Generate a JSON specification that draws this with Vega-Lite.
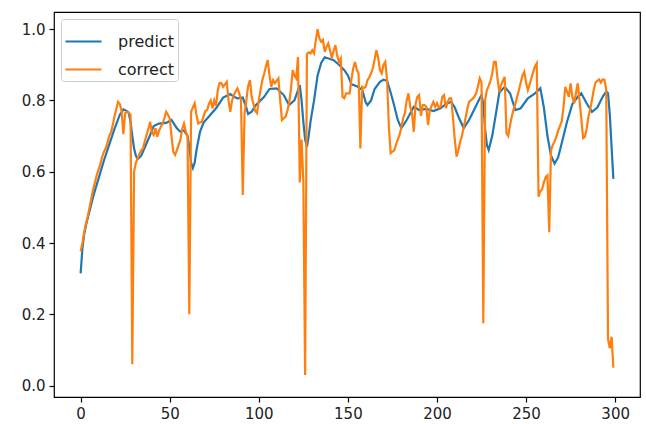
{
  "$schema": "https://vega.github.io/schema/vega-lite/v6.json",
  "width": 586,
  "height": 385,
  "autosize": {"type": "none"},
  "padding": {"left": 54, "top": 12, "right": 6, "bottom": 27},
  "background": "white",
  "config": {
    "font": "DejaVu Sans",
    "view": {"stroke": "#000", "strokeWidth": 1.2},
    "axis": {"grid": false, "domain": false, "tickColor": "#000", "tickSize": 5, "tickWidth": 1.2, "labelFontSize": 15, "labelColor": "#222", "labelPadding": 4, "title": null}
  },
  "datasets": {
    "predict": [
      {"x":0,"y":0.315},{"x":1,"y":0.385},{"x":2,"y":0.425},{"x":3,"y":0.45},{"x":4,"y":0.47},{"x":5,"y":0.49},{"x":7,"y":0.53},{"x":10,"y":0.58},{"x":13,"y":0.63},{"x":16,"y":0.675},{"x":19,"y":0.72},{"x":22,"y":0.76},{"x":24,"y":0.775},{"x":26,"y":0.77},{"x":27,"y":0.765},{"x":28,"y":0.74},{"x":29,"y":0.70},{"x":30,"y":0.665},{"x":31,"y":0.645},{"x":32,"y":0.635},{"x":34,"y":0.645},{"x":36,"y":0.668},{"x":39,"y":0.703},{"x":41,"y":0.728},{"x":44,"y":0.735},{"x":48,"y":0.737},{"x":51,"y":0.745},{"x":54,"y":0.722},{"x":56,"y":0.712},{"x":58,"y":0.716},{"x":60,"y":0.70},{"x":61,"y":0.67},{"x":62,"y":0.625},{"x":63,"y":0.61},{"x":64,"y":0.625},{"x":65,"y":0.66},{"x":67,"y":0.712},{"x":69,"y":0.738},{"x":72,"y":0.755},{"x":76,"y":0.778},{"x":80,"y":0.808},{"x":84,"y":0.818},{"x":86,"y":0.81},{"x":88,"y":0.806},{"x":91,"y":0.808},{"x":93,"y":0.78},{"x":94,"y":0.762},{"x":96,"y":0.768},{"x":98,"y":0.785},{"x":100,"y":0.795},{"x":103,"y":0.81},{"x":106,"y":0.832},{"x":110,"y":0.834},{"x":114,"y":0.815},{"x":117,"y":0.787},{"x":120,"y":0.80},{"x":123,"y":0.843},{"x":124,"y":0.80},{"x":125,"y":0.74},{"x":126,"y":0.69},{"x":127,"y":0.67},{"x":128,"y":0.70},{"x":129,"y":0.74},{"x":131,"y":0.80},{"x":133,"y":0.87},{"x":135,"y":0.905},{"x":137,"y":0.921},{"x":140,"y":0.916},{"x":142,"y":0.913},{"x":145,"y":0.90},{"x":148,"y":0.885},{"x":150,"y":0.87},{"x":152,"y":0.845},{"x":155,"y":0.84},{"x":158,"y":0.83},{"x":160,"y":0.795},{"x":161,"y":0.787},{"x":163,"y":0.80},{"x":165,"y":0.832},{"x":168,"y":0.852},{"x":170,"y":0.858},{"x":172,"y":0.855},{"x":174,"y":0.822},{"x":176,"y":0.785},{"x":178,"y":0.745},{"x":180,"y":0.722},{"x":183,"y":0.745},{"x":187,"y":0.782},{"x":190,"y":0.773},{"x":194,"y":0.776},{"x":198,"y":0.77},{"x":202,"y":0.778},{"x":205,"y":0.79},{"x":208,"y":0.796},{"x":210,"y":0.78},{"x":212,"y":0.755},{"x":215,"y":0.722},{"x":218,"y":0.745},{"x":221,"y":0.775},{"x":224,"y":0.806},{"x":225,"y":0.815},{"x":226,"y":0.79},{"x":227,"y":0.72},{"x":228,"y":0.675},{"x":229,"y":0.661},{"x":231,"y":0.70},{"x":233,"y":0.76},{"x":235,"y":0.822},{"x":238,"y":0.838},{"x":241,"y":0.82},{"x":244,"y":0.773},{"x":247,"y":0.778},{"x":251,"y":0.806},{"x":255,"y":0.82},{"x":258,"y":0.834},{"x":260,"y":0.78},{"x":262,"y":0.70},{"x":264,"y":0.645},{"x":266,"y":0.623},{"x":268,"y":0.64},{"x":270,"y":0.68},{"x":273,"y":0.74},{"x":276,"y":0.79},{"x":279,"y":0.81},{"x":281,"y":0.82},{"x":284,"y":0.792},{"x":287,"y":0.768},{"x":290,"y":0.78},{"x":293,"y":0.81},{"x":295,"y":0.825},{"x":296,"y":0.82},{"x":297,"y":0.76},{"x":298,"y":0.67},{"x":299,"y":0.58}
    ],
    "correct": [
      {"x":0,"y":0.376},{"x":1,"y":0.40},{"x":2,"y":0.43},{"x":3,"y":0.455},{"x":4,"y":0.475},{"x":5,"y":0.50},{"x":6,"y":0.525},{"x":7,"y":0.55},{"x":8,"y":0.57},{"x":9,"y":0.59},{"x":10,"y":0.605},{"x":11,"y":0.62},{"x":12,"y":0.64},{"x":13,"y":0.655},{"x":14,"y":0.665},{"x":15,"y":0.68},{"x":16,"y":0.70},{"x":17,"y":0.71},{"x":18,"y":0.73},{"x":19,"y":0.755},{"x":20,"y":0.775},{"x":21,"y":0.796},{"x":22,"y":0.79},{"x":23,"y":0.77},{"x":24,"y":0.705},{"x":25,"y":0.765},{"x":26,"y":0.768},{"x":27,"y":0.765},{"x":28,"y":0.76},{"x":29,"y":0.06},{"x":30,"y":0.60},{"x":31,"y":0.625},{"x":32,"y":0.637},{"x":33,"y":0.65},{"x":34,"y":0.66},{"x":35,"y":0.665},{"x":36,"y":0.685},{"x":37,"y":0.703},{"x":38,"y":0.72},{"x":39,"y":0.74},{"x":40,"y":0.71},{"x":41,"y":0.703},{"x":42,"y":0.722},{"x":43,"y":0.698},{"x":44,"y":0.715},{"x":45,"y":0.726},{"x":46,"y":0.735},{"x":47,"y":0.75},{"x":48,"y":0.768},{"x":49,"y":0.76},{"x":50,"y":0.75},{"x":51,"y":0.70},{"x":52,"y":0.656},{"x":53,"y":0.647},{"x":54,"y":0.66},{"x":55,"y":0.675},{"x":56,"y":0.689},{"x":57,"y":0.72},{"x":58,"y":0.735},{"x":59,"y":0.712},{"x":60,"y":0.70},{"x":61,"y":0.20},{"x":62,"y":0.768},{"x":63,"y":0.78},{"x":64,"y":0.792},{"x":65,"y":0.76},{"x":66,"y":0.735},{"x":67,"y":0.738},{"x":68,"y":0.74},{"x":69,"y":0.755},{"x":70,"y":0.77},{"x":71,"y":0.773},{"x":72,"y":0.79},{"x":73,"y":0.80},{"x":74,"y":0.778},{"x":75,"y":0.80},{"x":76,"y":0.785},{"x":77,"y":0.829},{"x":78,"y":0.849},{"x":79,"y":0.848},{"x":80,"y":0.838},{"x":81,"y":0.845},{"x":82,"y":0.852},{"x":83,"y":0.80},{"x":84,"y":0.768},{"x":85,"y":0.80},{"x":86,"y":0.815},{"x":87,"y":0.825},{"x":88,"y":0.834},{"x":89,"y":0.82},{"x":90,"y":0.80},{"x":91,"y":0.535},{"x":92,"y":0.764},{"x":93,"y":0.80},{"x":94,"y":0.84},{"x":95,"y":0.857},{"x":96,"y":0.81},{"x":97,"y":0.79},{"x":98,"y":0.77},{"x":99,"y":0.764},{"x":100,"y":0.80},{"x":101,"y":0.83},{"x":102,"y":0.857},{"x":103,"y":0.875},{"x":104,"y":0.895},{"x":105,"y":0.913},{"x":106,"y":0.87},{"x":107,"y":0.838},{"x":108,"y":0.857},{"x":109,"y":0.848},{"x":110,"y":0.855},{"x":111,"y":0.862},{"x":112,"y":0.80},{"x":113,"y":0.745},{"x":114,"y":0.75},{"x":115,"y":0.754},{"x":116,"y":0.77},{"x":117,"y":0.792},{"x":118,"y":0.83},{"x":119,"y":0.885},{"x":120,"y":0.87},{"x":121,"y":0.862},{"x":122,"y":0.922},{"x":123,"y":0.57},{"x":124,"y":0.69},{"x":125,"y":0.57},{"x":126,"y":0.03},{"x":127,"y":0.93},{"x":128,"y":0.935},{"x":129,"y":0.932},{"x":130,"y":0.941},{"x":131,"y":0.932},{"x":132,"y":0.97},{"x":133,"y":1.0},{"x":134,"y":0.974},{"x":135,"y":0.965},{"x":136,"y":0.97},{"x":137,"y":0.936},{"x":138,"y":0.95},{"x":139,"y":0.96},{"x":140,"y":0.94},{"x":141,"y":0.918},{"x":142,"y":0.94},{"x":143,"y":0.955},{"x":144,"y":0.925},{"x":145,"y":0.908},{"x":146,"y":0.918},{"x":147,"y":0.81},{"x":148,"y":0.806},{"x":149,"y":0.82},{"x":150,"y":0.82},{"x":151,"y":0.82},{"x":152,"y":0.86},{"x":153,"y":0.89},{"x":154,"y":0.908},{"x":155,"y":0.885},{"x":156,"y":0.876},{"x":157,"y":0.665},{"x":158,"y":0.838},{"x":159,"y":0.835},{"x":160,"y":0.838},{"x":161,"y":0.857},{"x":162,"y":0.865},{"x":163,"y":0.876},{"x":164,"y":0.89},{"x":165,"y":0.915},{"x":166,"y":0.941},{"x":167,"y":0.92},{"x":168,"y":0.885},{"x":169,"y":0.876},{"x":170,"y":0.90},{"x":171,"y":0.908},{"x":172,"y":0.857},{"x":173,"y":0.726},{"x":174,"y":0.652},{"x":175,"y":0.656},{"x":176,"y":0.66},{"x":177,"y":0.675},{"x":178,"y":0.69},{"x":179,"y":0.703},{"x":180,"y":0.725},{"x":181,"y":0.75},{"x":182,"y":0.764},{"x":183,"y":0.80},{"x":184,"y":0.82},{"x":185,"y":0.782},{"x":186,"y":0.764},{"x":187,"y":0.712},{"x":188,"y":0.79},{"x":189,"y":0.81},{"x":190,"y":0.815},{"x":191,"y":0.757},{"x":192,"y":0.787},{"x":193,"y":0.787},{"x":194,"y":0.782},{"x":195,"y":0.731},{"x":196,"y":0.773},{"x":197,"y":0.785},{"x":198,"y":0.796},{"x":199,"y":0.782},{"x":200,"y":0.792},{"x":201,"y":0.78},{"x":202,"y":0.782},{"x":203,"y":0.81},{"x":204,"y":0.815},{"x":205,"y":0.778},{"x":206,"y":0.796},{"x":207,"y":0.806},{"x":208,"y":0.806},{"x":209,"y":0.75},{"x":210,"y":0.689},{"x":211,"y":0.642},{"x":212,"y":0.66},{"x":213,"y":0.684},{"x":214,"y":0.70},{"x":215,"y":0.725},{"x":216,"y":0.75},{"x":217,"y":0.775},{"x":218,"y":0.796},{"x":219,"y":0.80},{"x":220,"y":0.805},{"x":221,"y":0.81},{"x":222,"y":0.82},{"x":223,"y":0.84},{"x":224,"y":0.862},{"x":225,"y":0.85},{"x":226,"y":0.175},{"x":227,"y":0.80},{"x":228,"y":0.829},{"x":229,"y":0.84},{"x":230,"y":0.855},{"x":231,"y":0.875},{"x":232,"y":0.908},{"x":233,"y":0.908},{"x":234,"y":0.86},{"x":235,"y":0.824},{"x":236,"y":0.843},{"x":237,"y":0.855},{"x":238,"y":0.866},{"x":239,"y":0.708},{"x":240,"y":0.70},{"x":241,"y":0.73},{"x":242,"y":0.755},{"x":243,"y":0.775},{"x":244,"y":0.79},{"x":245,"y":0.81},{"x":246,"y":0.829},{"x":247,"y":0.85},{"x":248,"y":0.87},{"x":249,"y":0.88},{"x":250,"y":0.85},{"x":251,"y":0.829},{"x":252,"y":0.845},{"x":253,"y":0.862},{"x":254,"y":0.88},{"x":255,"y":0.895},{"x":256,"y":0.904},{"x":257,"y":0.53},{"x":258,"y":0.545},{"x":259,"y":0.55},{"x":260,"y":0.57},{"x":261,"y":0.585},{"x":262,"y":0.59},{"x":263,"y":0.43},{"x":264,"y":0.66},{"x":265,"y":0.675},{"x":266,"y":0.685},{"x":267,"y":0.698},{"x":268,"y":0.715},{"x":269,"y":0.728},{"x":270,"y":0.74},{"x":271,"y":0.78},{"x":272,"y":0.838},{"x":273,"y":0.825},{"x":274,"y":0.81},{"x":275,"y":0.848},{"x":276,"y":0.81},{"x":277,"y":0.792},{"x":278,"y":0.82},{"x":279,"y":0.848},{"x":280,"y":0.80},{"x":281,"y":0.75},{"x":282,"y":0.694},{"x":283,"y":0.698},{"x":284,"y":0.72},{"x":285,"y":0.754},{"x":286,"y":0.775},{"x":287,"y":0.801},{"x":288,"y":0.83},{"x":289,"y":0.85},{"x":290,"y":0.855},{"x":291,"y":0.859},{"x":292,"y":0.85},{"x":293,"y":0.859},{"x":294,"y":0.858},{"x":295,"y":0.83},{"x":296,"y":0.13},{"x":297,"y":0.105},{"x":298,"y":0.137},{"x":299,"y":0.05}
    ]
  },
  "encoding": {
    "x": {"field": "x", "type": "quantitative", "scale": {"domain": [-14.95, 313.95], "nice": false, "zero": false}, "axis": {"values": [0, 50, 100, 150, 200, 250, 300], "format": "d"}},
    "y": {"field": "y", "type": "quantitative", "scale": {"domain": [-0.032, 1.048], "nice": false, "zero": false}, "axis": {"values": [0, 0.2, 0.4, 0.6, 0.8, 1.0], "format": ".1f"}}
  },
  "layer": [
    {
      "data": {"name": "predict"},
      "mark": {"type": "line", "strokeWidth": 2.2, "clip": true},
      "encoding": {
        "color": {"datum": "predict", "type": "nominal", "scale": {"domain": ["predict", "correct"], "range": ["#1f77b4", "#ff7f0e"]},
          "legend": {"orient": "none", "legendX": 7, "legendY": 7, "title": null, "symbolType": "stroke", "symbolSize": 1300, "symbolStrokeWidth": 2.2, "labelFontSize": 16, "labelColor": "#222", "labelOffset": 15, "rowPadding": 0, "padding": 3, "strokeColor": "#cccccc", "fillColor": "white", "cornerRadius": 3}}
      }
    },
    {
      "data": {"name": "correct"},
      "mark": {"type": "line", "strokeWidth": 2.2, "clip": true},
      "encoding": {
        "color": {"datum": "correct", "type": "nominal"}
      }
    }
  ]
}
